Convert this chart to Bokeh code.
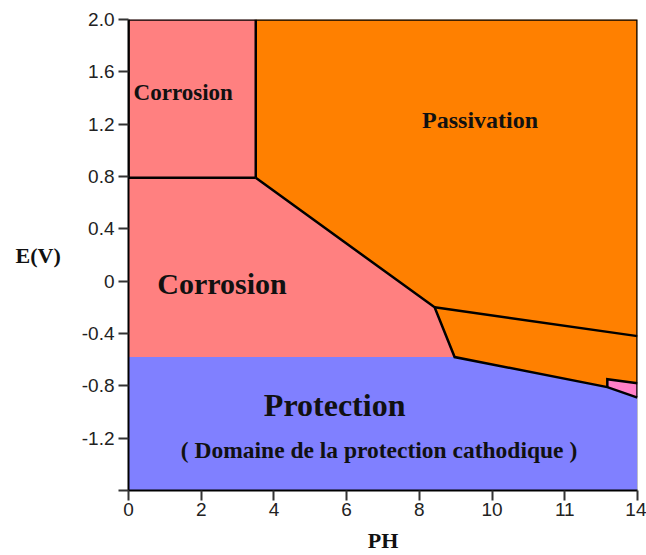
from bokeh.plotting import figure
from bokeh.models import Range1d, FixedTicker
from bokeh.core.properties import value
from bokeh.embed import file_html
from bokeh.resources import INLINE

# ---- data (pH, E in volts) ----
x_ticks = [0, 2, 4, 6, 8, 10, 12, 14]
x_tick_labels = ["0", "2", "4", "6", "8", "10", "11", "14"]
y_ticks = [-1.6, -1.2, -0.8, -0.4, 0, 0.4, 0.8, 1.2, 1.6, 2.0]
y_tick_labels = ["", "-1.2", "-0.8", "-0.4", "0", "0.4", "0.8", "1.2", "1.6", "2.0"]

corr_top_ph = [0, 0, 3.5, 3.5]
corr_top_e = [0.79, 2.0, 2.0, 0.79]

passiv_ph = [3.5, 14, 14, 13.17, 13.17, 8.97, 8.42, 3.5]
passiv_e = [2.0, 2.0, -0.78, -0.75, -0.81, -0.58, -0.20, 0.79]

corr_low_ph = [0, 0, 3.5, 8.42, 8.97]
corr_low_e = [-0.58, 0.79, 0.79, -0.20, -0.58]

prot_ph = [0, 0, 8.97, 13.17, 14, 14]
prot_e = [-1.6, -0.58, -0.58, -0.81, -0.89, -1.6]

small_ph = [13.17, 14, 14, 13.17]
small_e = [-0.75, -0.78, -0.89, -0.81]

# boundary lines
b_rect_ph = [3.5, 0, 0, 14, 14]
b_rect_e = [0.79, 0.79, 2.0, 2.0, -0.89]
b_vert_ph = [3.5, 3.5]
b_vert_e = [2.0, 0.79]
b_diag_ph = [3.5, 8.42, 8.97, 13.17, 14]
b_diag_e = [0.79, -0.20, -0.58, -0.81, -0.89]
b_upper_ph = [8.42, 14]
b_upper_e = [-0.20, -0.42]
b_small_ph = [13.17, 13.17, 14]
b_small_e = [-0.81, -0.75, -0.78]
b_edge_ph = [14, 14]
b_edge_e = [-0.89, -1.6]

label_texts = ["Corrosion", "Passivation", "Corrosion", "Protection",
               "( Domaine de la protection cathodique )"]
label_ph = [0.14, 9.67, 2.57, 5.67, 6.89]
label_e = [1.44, 1.23, -0.02, -0.95, -1.29]

PINK = "#FF8080"
ORANGE = "#FF8000"
BLUE = "#8080FF"
MAGENTA = "#FF80C8"

p = figure(width=646, height=555, output_backend="svg", toolbar_location=None,
           x_range=Range1d(0, 14), y_range=Range1d(-1.6, 2.0),
           min_border_left=128, min_border_right=9, min_border_top=19,
           min_border_bottom=65)
p.outline_line_color = None
p.xgrid.visible = False
p.ygrid.visible = False
p.background_fill_color = "white"

p.patch(corr_top_ph, corr_top_e, fill_color=PINK, line_color=None)
p.patch(passiv_ph, passiv_e, fill_color=ORANGE, line_color=None)
p.patch(corr_low_ph, corr_low_e, fill_color=PINK, line_color=None)
p.patch(prot_ph, prot_e, fill_color=BLUE, line_color=None)
p.patch(small_ph, small_e, fill_color=MAGENTA, line_color=None)

for xs, ys in [(b_rect_ph, b_rect_e), (b_vert_ph, b_vert_e), (b_diag_ph, b_diag_e),
               (b_upper_ph, b_upper_e), (b_small_ph, b_small_e)]:
    p.line(xs, ys, line_color="black", line_width=2.5, line_join="miter")
p.line(b_edge_ph, b_edge_e, line_color="#999999", line_width=1)

sizes = ["23px", "24px", "30px", "32px", "23.5px"]
aligns = ["left", "center", "center", "center", "center"]
for t, x, y, s, a in zip(label_texts, label_ph, label_e, sizes, aligns):
    p.text(x=[x], y=[y], text=[t], text_font=value("Liberation Serif"),
           text_font_style="bold", text_font_size=s, text_align=a,
           text_baseline="middle", text_color="#111111")

for ax in (p.xaxis[0], p.yaxis[0]):
    ax.axis_line_color = "black"
    ax.axis_line_width = 2
    ax.major_tick_line_color = "#333333"
    ax.major_tick_line_width = 2
    ax.major_tick_out = 10
    ax.major_tick_in = 0
    ax.minor_tick_line_color = None
    ax.major_label_text_font = "Liberation Sans"
    ax.major_label_text_font_size = "19px"
    ax.major_label_text_color = "#222222"
    ax.axis_label_text_font = "Liberation Serif"
    ax.axis_label_text_font_style = "bold"
    ax.axis_label_text_font_size = "22px"
    ax.axis_label_text_color = "#111111"

p.xaxis.ticker = FixedTicker(ticks=x_ticks)
p.xaxis.major_label_overrides = dict(zip(x_ticks, x_tick_labels))
p.yaxis.ticker = FixedTicker(ticks=y_ticks)
p.yaxis.major_label_overrides = dict(zip(y_ticks, y_tick_labels))

p.xaxis.axis_label = "PH"
p.xaxis.major_label_standoff = 2
p.xaxis.axis_label_standoff = 9
p.yaxis.axis_label = "E(V)"
p.yaxis.axis_label_orientation = "horizontal"
p.yaxis.major_label_standoff = 4
p.yaxis.axis_label_standoff = 18

open("out.html", "w").write(file_html(p, INLINE))
